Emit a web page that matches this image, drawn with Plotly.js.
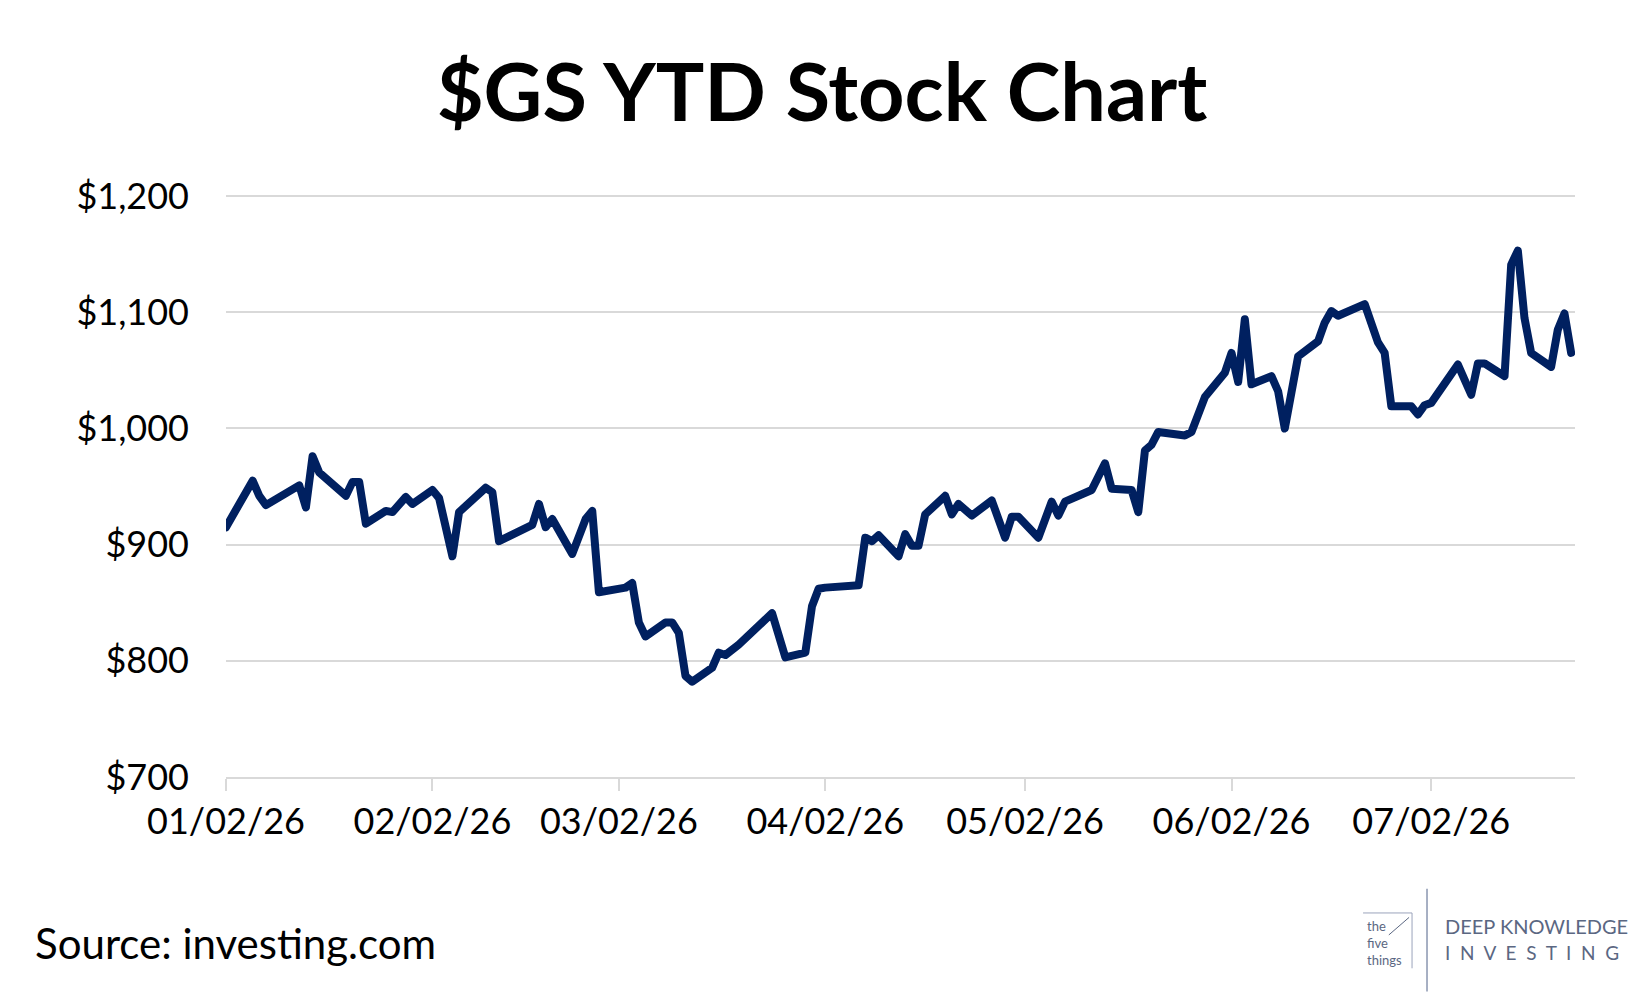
<!DOCTYPE html>
<html>
<head>
<meta charset="utf-8">
<script src="https://cdn.plot.ly/plotly-3.0.1.min.js"></script>
<style>
  html, body { margin: 0; padding: 0; background: #fff; }
  #chart { width: 1644px; height: 997px; }
  path.js-line { stroke-linejoin: round; stroke-linecap: round; }
</style>
</head>
<body>
<div id="chart"></div>
<script>
// $GS closing prices
var dates = [
  '2026-01-02','2026-01-06','2026-01-07','2026-01-08','2026-01-13','2026-01-14','2026-01-15','2026-01-16',
  '2026-01-20','2026-01-21','2026-01-22','2026-01-23','2026-01-26','2026-01-27','2026-01-29','2026-01-30',
  '2026-02-02','2026-02-03','2026-02-05','2026-02-06','2026-02-10','2026-02-11','2026-02-12','2026-02-17',
  '2026-02-18','2026-02-19','2026-02-20','2026-02-23','2026-02-25','2026-02-26','2026-02-27','2026-03-02',
  '2026-03-03','2026-03-04','2026-03-05','2026-03-06','2026-03-09','2026-03-10','2026-03-11','2026-03-12',
  '2026-03-13','2026-03-16','2026-03-17','2026-03-18','2026-03-20','2026-03-25','2026-03-27','2026-03-30',
  '2026-03-31','2026-04-01','2026-04-02','2026-04-07','2026-04-08','2026-04-09','2026-04-10','2026-04-13',
  '2026-04-14','2026-04-15','2026-04-16','2026-04-17','2026-04-20','2026-04-21','2026-04-22','2026-04-24',
  '2026-04-27','2026-04-29','2026-04-30','2026-05-01','2026-05-04','2026-05-06','2026-05-07','2026-05-08',
  '2026-05-11','2026-05-12','2026-05-14','2026-05-15','2026-05-18','2026-05-19','2026-05-20','2026-05-21',
  '2026-05-22','2026-05-26','2026-05-27','2026-05-28','2026-05-29','2026-06-01','2026-06-02','2026-06-03',
  '2026-06-04','2026-06-05','2026-06-08','2026-06-09','2026-06-10','2026-06-12','2026-06-15','2026-06-16',
  '2026-06-17','2026-06-18','2026-06-22','2026-06-24','2026-06-25','2026-06-26','2026-06-29','2026-06-30',
  '2026-07-01','2026-07-02','2026-07-06','2026-07-08','2026-07-09','2026-07-10','2026-07-13','2026-07-14',
  '2026-07-15','2026-07-16','2026-07-17','2026-07-20','2026-07-21','2026-07-22','2026-07-23'
];

var prices = [
  915, 955, 942, 934, 951, 932, 976, 962,
  942, 954, 954, 918, 929, 928, 941, 935,
  947, 940, 890, 928, 949, 945, 903, 917,
  935, 915, 922, 892, 922, 929, 859, 861,
  863, 867, 833, 821, 833, 833, 824, 787,
  782, 794, 807, 805, 814, 841, 803, 807,
  847, 862, 863, 865, 906, 903, 908, 890,
  909, 899, 899, 926, 942, 926, 935, 925,
  938, 906, 924, 924, 906, 937, 925, 937,
  945, 947, 970, 948, 947, 928, 981, 986,
  997, 994, 997, 1010, 1027, 1048, 1065, 1040,
  1094, 1038, 1045, 1032, 1000, 1062, 1075, 1091,
  1101, 1097, 1107, 1074, 1065, 1019, 1019, 1012,
  1020, 1022, 1055, 1029, 1056, 1056, 1045, 1141,
  1153, 1095, 1065, 1053, 1085, 1099, 1065
];

var tickDates = ['2026-01-02','2026-02-02','2026-03-02','2026-04-02','2026-05-02','2026-06-02','2026-07-02'];
var tickLabels = ['01/02/26','02/02/26','03/02/26','04/02/26','05/02/26','06/02/26','07/02/26'];
var yTicks = [700, 800, 900, 1000, 1100, 1200];
var yLabels = ['$700', '$800', '$900', '$1,000', '$1,100', '$1,200'];

var font = 'Lato, "Open Sans", "DejaVu Sans", sans-serif';
var logoColor = '#5b6782';

var trace = {
  x: dates,
  y: prices,
  type: 'scatter',
  mode: 'lines',
  line: {color: '#002060', width: 8},
  hoverinfo: 'skip'
};

var layout = {
  width: 1644,
  height: 997,
  margin: {l: 226, r: 69, t: 192, b: 220},
  paper_bgcolor: '#ffffff',
  plot_bgcolor: '#ffffff',
  showlegend: false,
  font: {family: font, color: '#000000'},
  title: {
    text: '<b>$GS YTD Stock Chart</b>',
    font: {family: font, size: 81, color: '#000000'},
    xref: 'container', x: 0.5, xanchor: 'center',
    yref: 'container', y: 0.907, yanchor: 'middle'
  },
  xaxis: {
    type: 'date',
    range: ['2026-01-02', '2026-07-23 14:00'],
    tickmode: 'array',
    tickvals: tickDates,
    ticktext: tickLabels,
    ticks: 'outside',
    ticklen: 12,
    tickwidth: 2,
    tickcolor: '#d9d9d9',
    showline: true,
    linecolor: '#d9d9d9',
    linewidth: 2,
    showgrid: false,
    zeroline: false,
    tickfont: {family: font, size: 36, color: '#000000'}
  },
  yaxis: {
    range: [700, 1203.5],
    tickmode: 'array',
    tickvals: yTicks,
    ticktext: yLabels,
    showgrid: true,
    gridcolor: '#d9d9d9',
    gridwidth: 2,
    zeroline: false,
    showline: false,
    ticks: '',
    ticklabelstandoff: 36,
    tickfont: {family: font, size: 36, color: '#000000'}
  },
  annotations: [
    {
      text: 'Source: investing.com',
      xref: 'paper', yref: 'paper', x: -0.1430, y: -0.2830,
      xanchor: 'left', yanchor: 'middle', showarrow: false,
      font: {family: font, size: 42, color: '#000000'}
    },
    {
      text: 'DEEP KNOWLEDGE',
      xref: 'paper', yref: 'paper', x: 0.9022, y: -0.2545,
      xanchor: 'left', yanchor: 'middle', showarrow: false,
      font: {family: font, size: 20, color: logoColor}
    },
    {
      text: 'I\u00a0\u00a0N\u00a0\u00a0V\u00a0\u00a0E\u00a0\u00a0S\u00a0\u00a0T\u00a0\u00a0I\u00a0\u00a0N\u00a0\u00a0G',
      xref: 'paper', yref: 'paper', x: 0.9022, y: -0.3000,
      xanchor: 'left', yanchor: 'middle', showarrow: false,
      font: {family: font, size: 19, color: logoColor}
    },
    {
      text: 'the<br>five<br>things',
      xref: 'paper', yref: 'paper', x: 0.8445, y: -0.2840,
      xanchor: 'left', yanchor: 'middle', showarrow: false, align: 'left',
      font: {family: font, size: 13, color: logoColor}
    }
  ],
  shapes: [
    {type: 'line', xref: 'paper', yref: 'paper', x0: 0.8903, x1: 0.8903, y0: -0.1910, y1: -0.3666,
     line: {color: '#8a96b0', width: 1.5}},
    {type: 'line', xref: 'paper', yref: 'paper', x0: 0.8429, x1: 0.8792, y0: -0.2324, y1: -0.2324,
     line: {color: '#9aa4bb', width: 1}},
    {type: 'line', xref: 'paper', yref: 'paper', x0: 0.8792, x1: 0.8792, y0: -0.2324, y1: -0.3270,
     line: {color: '#9aa4bb', width: 1}},
    {type: 'line', xref: 'paper', yref: 'paper', x0: 0.8620, x1: 0.8770, y0: -0.2700, y1: -0.2400,
     line: {color: logoColor, width: 1}}
  ]
};

Plotly.newPlot('chart', [trace], layout, {displayModeBar: false, staticPlot: true});
</script>
</body>
</html>
